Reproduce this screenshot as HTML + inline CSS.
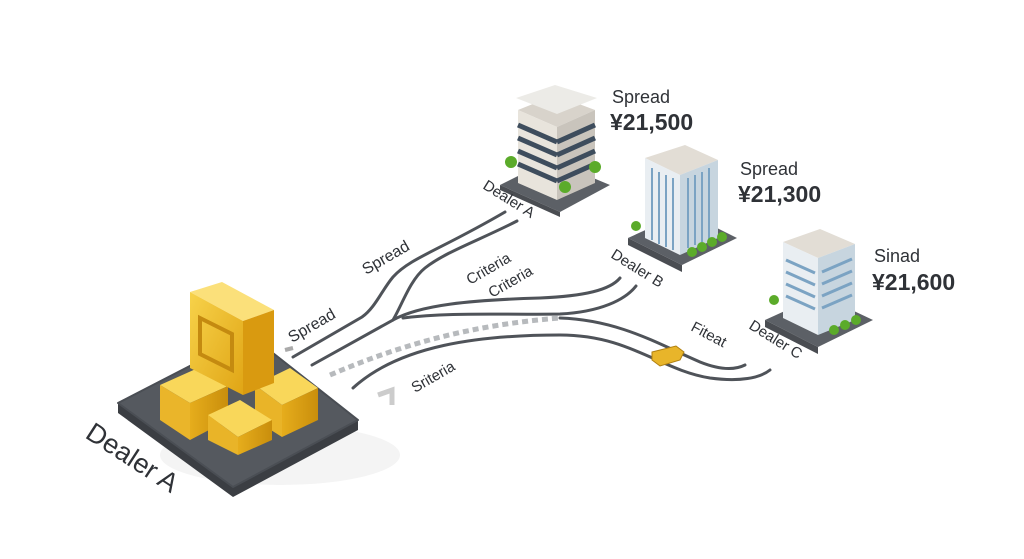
<!DOCTYPE html>
<html><head><meta charset="utf-8"><style>
html,body{margin:0;padding:0;background:#fff;}
svg{display:block;}
text{font-family:"Liberation Sans",sans-serif;fill:#2f3237;}
</style></head><body>
<svg width="1024" height="559" viewBox="0 0 1024 559" xmlns="http://www.w3.org/2000/svg">
<defs>
<linearGradient id="g1" x1="0" y1="0" x2="1" y2="1"><stop offset="0" stop-color="#f7d24a"/><stop offset="1" stop-color="#e0a515"/></linearGradient>
<linearGradient id="g2" x1="0" y1="0" x2="1" y2="0"><stop offset="0" stop-color="#e6ad1c"/><stop offset="1" stop-color="#c98e0c"/></linearGradient>
</defs>
<rect width="1024" height="559" fill="#fff"/>
<ellipse cx="280" cy="455" rx="120" ry="30" fill="#f4f4f4"/>
<!-- slab -->
<path d="M118,413 L233,497 L358,430 L358,420 L233,487 L118,403 Z" fill="#3b3e43"/>
<path d="M118,403 L250,335 L358,420 L233,487 Z" fill="#55595f" stroke="#4a4e54" stroke-width="2" stroke-linejoin="round"/>
<!-- back-right cube -->
<path d="M255,385 L290,368 L318,388 L282,405 Z" fill="#f9d75a"/>
<path d="M282,405 L318,388 L318,420 L282,437 Z" fill="url(#g2)"/>
<path d="M255,385 L282,405 L282,437 L255,420 Z" fill="#e9b428"/>
<!-- back-left cube -->
<path d="M160,385 L198,368 L228,386 L190,403 Z" fill="#f9d75a"/>
<path d="M160,385 L190,403 L190,440 L160,420 Z" fill="#eab52a"/>
<path d="M190,403 L228,386 L228,420 L190,440 Z" fill="url(#g2)"/>
<!-- upright block -->
<path d="M190,292 L222,282 L274,310 L243,321 Z" fill="#fbe07a"/>
<path d="M190,292 L243,321 L243,395 L190,368 Z" fill="url(#g1)"/>
<path d="M243,321 L274,310 L274,383 L243,395 Z" fill="#d99a10"/>
<path d="M200,318 L232,334 L232,370 L200,354 Z" fill="none" stroke="#c48a10" stroke-width="4"/>
<!-- front cube -->
<path d="M208,415 L240,400 L272,420 L238,437 Z" fill="#f9d75a"/>
<path d="M208,415 L238,437 L238,455 L208,440 Z" fill="#e9b428"/>
<path d="M238,437 L272,420 L272,440 L238,455 Z" fill="url(#g2)"/>
<!-- lines -->
<g fill="none" stroke="#4f5359" stroke-width="3" stroke-linecap="round">
<path d="M293,357 L362,317 C375,308 382,290 393,277 C410,258 440,250 505,212"/>
<path d="M312,365 L393,320 C402,305 410,280 425,268 C445,252 480,240 517,221"/>
<path d="M393,320 C420,305 470,300 540,298 C585,296 610,290 620,278"/>
<path d="M403,318 C450,312 500,315 560,314 C600,312 625,300 636,286"/>
<path d="M560,318 C620,320 660,345 700,362 C720,370 735,370 745,365"/>
<path d="M353,388 C400,345 480,335 560,335 C630,335 660,370 710,378 C740,382 760,378 770,370"/>
</g>
<path d="M330,375 C400,345 470,325 560,318" fill="none" stroke="#b7babd" stroke-width="5" stroke-dasharray="6,4"/>
<path d="M378,395 L392,390 L392,405" fill="none" stroke="#ccc" stroke-width="5"/>
<path d="M285,350 l8,-2" stroke="#aaa" stroke-width="4"/>
<!-- tag -->
<path d="M652,352 L676,346 L684,352 L680,360 L660,366 L652,360 Z" fill="#e8b52a" stroke="#b08010" stroke-width="1"/>
<!-- Building A -->
<path d="M500,185 L550,160 L610,185 L560,212 Z" fill="#5c6066"/>
<path d="M500,185 L560,212 L560,217 L500,190 Z" fill="#4a4d52"/>
<path d="M518,110 L555,95 L595,110 L557,127 Z" fill="#d8d3cb"/>
<path d="M518,110 L557,127 L557,200 L518,183 Z" fill="#e8e4dc"/>
<path d="M557,127 L595,110 L595,183 L557,200 Z" fill="#c9c4bc"/>
<g stroke="#3e4d5d" stroke-width="5">
<path d="M518,125 L557,142 M518,138 L557,155 M518,151 L557,168 M518,164 L557,181"/>
<path d="M557,142 L595,125 M557,155 L595,138 M557,168 L595,151 M557,181 L595,164"/>
</g>
<path d="M516,98 L555,85 L597,98 L557,114 Z" fill="#ecebe7"/>
<circle cx="511" cy="162" r="6" fill="#5bab2a"/><circle cx="595" cy="167" r="6" fill="#5bab2a"/><circle cx="565" cy="187" r="6" fill="#5bab2a"/>
<!-- Building B -->
<path d="M628,238 L685,212 L737,238 L682,265 Z" fill="#5c6066"/>
<path d="M628,238 L682,265 L682,272 L628,245 Z" fill="#4a4d52"/>
<path d="M645,158 L685,145 L718,160 L680,175 Z" fill="#e2ddd5"/>
<path d="M645,158 L680,175 L680,255 L645,238 Z" fill="#e9eef2"/>
<path d="M680,175 L718,160 L718,238 L680,255 Z" fill="#c7d5df"/>
<g stroke="#7ba3c3" stroke-width="2">
<path d="M652,168 V240 M659,172 V244 M666,175 V247 M673,178 V250"/>
<path d="M688,178 V248 M695,175 V245 M702,172 V242 M709,168 V239"/>
</g>
<circle cx="636" cy="226" r="5" fill="#5bab2a"/><circle cx="692" cy="252" r="5" fill="#5bab2a"/><circle cx="702" cy="247" r="5" fill="#5bab2a"/><circle cx="712" cy="242" r="5" fill="#5bab2a"/><circle cx="722" cy="237" r="5" fill="#5bab2a"/>
<!-- Building C -->
<path d="M765,320 L820,295 L873,320 L818,347 Z" fill="#5c6066"/>
<path d="M765,320 L818,347 L818,354 L765,327 Z" fill="#4a4d52"/>
<path d="M783,242 L820,229 L855,244 L818,258 Z" fill="#e2ddd5"/>
<path d="M783,242 L818,258 L818,335 L783,318 Z" fill="#e9eef2"/>
<path d="M818,258 L855,244 L855,320 L818,335 Z" fill="#c7d5df"/>
<g stroke="#7ba3c3" stroke-width="3">
<path d="M786,260 L815,273 M786,272 L815,285 M786,284 L815,297 M786,296 L815,309"/>
<path d="M822,272 L852,259 M822,284 L852,271 M822,296 L852,283 M822,308 L852,295"/>
</g>
<circle cx="774" cy="300" r="5" fill="#5bab2a"/><circle cx="834" cy="330" r="5" fill="#5bab2a"/><circle cx="845" cy="325" r="5" fill="#5bab2a"/><circle cx="856" cy="320" r="5" fill="#5bab2a"/>
<!-- price labels -->
<text x="612" y="103" font-size="18">Spread</text>
<text x="610" y="130" font-size="23" font-weight="bold">¥21,500</text>
<text x="740" y="175" font-size="18">Spread</text>
<text x="738" y="202" font-size="23" font-weight="bold">¥21,300</text>
<text x="874" y="262" font-size="18">Sinad</text>
<text x="872" y="290" font-size="23" font-weight="bold">¥21,600</text>
<!-- rotated labels -->
<text x="84" y="437" font-size="27" transform="rotate(33 84 437)">Dealer A</text>
<text x="292" y="343" font-size="16" transform="rotate(-30 292 343)">Spread</text>
<text x="366" y="275" font-size="16" transform="rotate(-30 366 275)">Spread</text>
<text x="470" y="285" font-size="15" transform="rotate(-30 470 285)">Criteria</text>
<text x="492" y="298" font-size="15" transform="rotate(-30 492 298)">Criteria</text>
<text x="415" y="393" font-size="15" transform="rotate(-30 415 393)">Sriteria</text>
<text x="482" y="188" font-size="15" transform="rotate(32 482 188)">Dealer A</text>
<text x="610" y="257" font-size="15" transform="rotate(32 610 257)">Dealer B</text>
<text x="748" y="328" font-size="15" transform="rotate(32 748 328)">Dealer C</text>
<text x="690" y="330" font-size="15" transform="rotate(28 690 330)">Fiteat</text>
</svg>
</body></html>
